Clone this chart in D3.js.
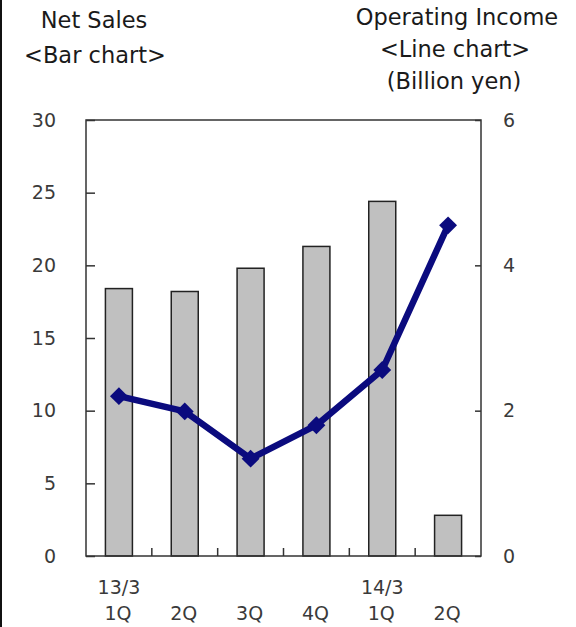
<!DOCTYPE html>
<html>
<head>
<meta charset="utf-8">
<script src="https://cdn.jsdelivr.net/npm/d3@7"></script>
<style>
  html, body { margin: 0; padding: 0; background: #fff; }
  svg { display: block; }
  text { font-family: "DejaVu Sans", sans-serif; }
</style>
</head>
<body>
<svg id="chart" width="576" height="627"></svg>
<script>
// Quarterly results: net sales (bars, left axis) and operating income (line, right axis)
const quarters = ["13/3 1Q", "2Q", "3Q", "4Q", "14/3 1Q", "2Q "];
const quarterLines = [["13/3", "1Q"], ["", "2Q"], ["", "3Q"], ["", "4Q"], ["14/3", "1Q"], ["", "2Q"]];
const netSales = [18.4, 18.2, 19.8, 21.3, 24.4, 2.8];
const operatingIncome = [2.2, 1.99, 1.34, 1.8, 2.56, 4.55];
const leftTicks = [0, 5, 10, 15, 20, 25, 30];
const rightTicks = [0, 2, 4, 6];

const svg = d3.select("#chart");
const W = 576, H = 627;
const m = { left: 86, right: 481, top: 120, bottom: 556 };

const x = d3.scaleBand().domain(quarters).range([m.left, m.right]).paddingInner(0).paddingOuter(0);
const yL = d3.scaleLinear().domain([0, 30]).range([m.bottom, m.top]);
const yR = d3.scaleLinear().domain([0, 6]).range([m.bottom, m.top]);

// left page rule
svg.append("line").attr("x1", 1).attr("x2", 1).attr("y1", 0).attr("y2", H)
  .attr("stroke", "#111").attr("stroke-width", 2);

// titles
const titleColor = "#1a1a1a";
const titleSize = 22.5;
const titles = [
  { t: "Net Sales", x: 94, y: 28 },
  { t: "<Bar chart>", x: 95, y: 63 },
  { t: "Operating Income", x: 457, y: 25 },
  { t: "<Line chart>", x: 455, y: 57 },
  { t: "(Billion yen)", x: 454, y: 89 }
];
svg.append("g").selectAll("text").data(titles).join("text")
  .attr("x", d => d.x).attr("y", d => d.y).attr("text-anchor", "middle")
  .attr("font-size", titleSize).attr("fill", titleColor).text(d => d.t);

// bars
const barW = 27;
svg.append("g").selectAll("rect").data(netSales).join("rect")
  .attr("x", (d, i) => x(quarters[i]) + x.bandwidth() / 2 - barW / 2)
  .attr("y", d => yL(d))
  .attr("width", barW)
  .attr("height", d => yL(0) - yL(d))
  .attr("fill", "#c0c0c0")
  .attr("stroke", "#222")
  .attr("stroke-width", 1.5);

// frame
const frameColor = "#333";
svg.append("rect").attr("x", m.left).attr("y", m.top)
  .attr("width", m.right - m.left).attr("height", m.bottom - m.top)
  .attr("fill", "none").attr("stroke", frameColor).attr("stroke-width", 1.5);

// left axis (inward ticks)
const tickFont = 19;
const leftAxis = d3.axisRight(yL).tickValues(leftTicks).tickSize(9).tickFormat("");
const gl = svg.append("g").attr("transform", `translate(${m.left},0)`).call(leftAxis);
gl.select(".domain").remove();
gl.selectAll("line").attr("stroke", frameColor).attr("stroke-width", 1.5);
svg.append("g").selectAll("text").data(leftTicks).join("text")
  .attr("x", 56).attr("y", d => yL(d)).attr("dy", "0.35em")
  .attr("text-anchor", "end").attr("font-size", tickFont).attr("fill", "#3a3a3a")
  .text(d => d);

// right axis (inward ticks)
const rightAxis = d3.axisLeft(yR).tickValues(rightTicks).tickSize(6).tickFormat("");
const gr = svg.append("g").attr("transform", `translate(${m.right},0)`).call(rightAxis);
gr.select(".domain").remove();
gr.selectAll("line").attr("stroke", frameColor).attr("stroke-width", 1.5);
svg.append("g").selectAll("text").data(rightTicks).join("text")
  .attr("x", 509).attr("y", d => yR(d)).attr("dy", "0.35em")
  .attr("text-anchor", "middle").attr("font-size", tickFont).attr("fill", "#3a3a3a")
  .text(d => d);

// category separators on the bottom axis
const seps = quarters.slice(1).map(q => x(q));
svg.append("g").selectAll("line").data(seps).join("line")
  .attr("x1", d => d).attr("x2", d => d)
  .attr("y1", m.bottom).attr("y2", m.bottom - 8)
  .attr("stroke", frameColor).attr("stroke-width", 1.5);

// category labels
const lab = svg.append("g");
quarterLines.forEach((ls, i) => {
  const cx = x(quarters[i]) + x.bandwidth() / 2;
  lab.append("text").attr("x", cx).attr("y", 594).attr("text-anchor", "middle")
    .attr("font-size", tickFont).attr("fill", "#3a3a3a").text(ls[0]);
  lab.append("text").attr("x", cx - 1).attr("y", 620).attr("text-anchor", "middle")
    .attr("font-size", tickFont).attr("fill", "#3a3a3a").text(ls[1]);
});

// operating income line
const navy = "#0b0b7e";
const line = d3.line()
  .x((d, i) => x(quarters[i]) + x.bandwidth() / 2)
  .y(d => yR(d));
svg.append("path").datum(operatingIncome)
  .attr("d", line).attr("fill", "none")
  .attr("stroke", navy).attr("stroke-width", 6.5).attr("stroke-linejoin", "round");

const diamond = d3.symbol().type(d3.symbolSquare).size(160);
svg.append("g").selectAll("path").data(operatingIncome).join("path")
  .attr("d", diamond)
  .attr("transform", (d, i) => `translate(${x(quarters[i]) + x.bandwidth() / 2},${yR(d)}) rotate(45)`)
  .attr("fill", navy);
</script>
</body>
</html>
